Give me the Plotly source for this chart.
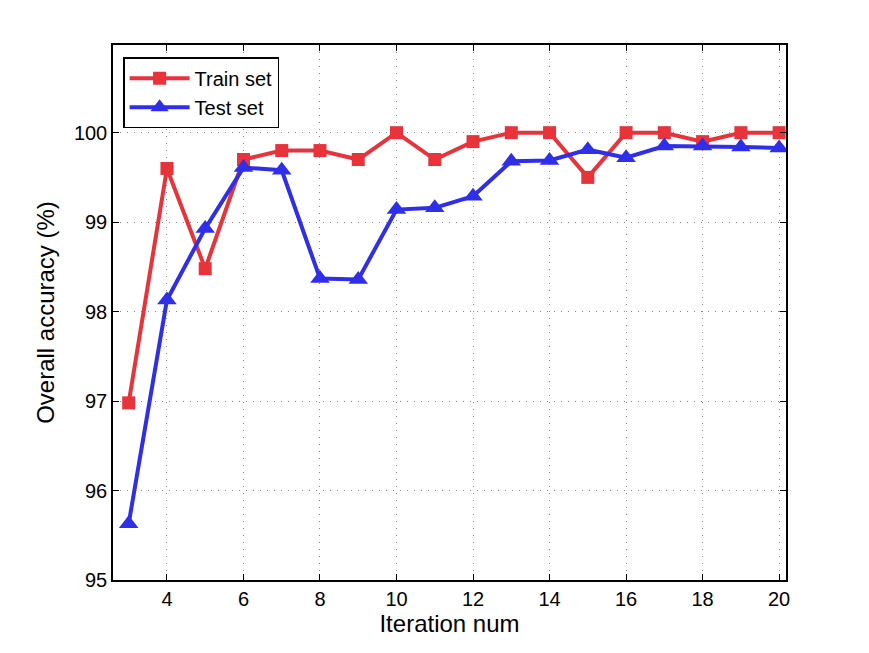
import plotly.graph_objects as go

iterations = list(range(3, 21))
train_acc = [96.98, 99.6, 98.48, 99.7, 99.8, 99.8, 99.7, 100.0, 99.7, 99.9,
             100.0, 100.0, 99.5, 100.0, 100.0, 99.9, 100.0, 100.0]
test_acc = [95.63, 98.13, 98.93, 99.61, 99.58, 98.37, 98.36, 99.14, 99.16, 99.29,
            99.68, 99.69, 99.81, 99.72, 99.85, 99.85, 99.84, 99.83]
x_ticks = [4, 6, 8, 10, 12, 14, 16, 18, 20]
y_ticks = [95, 96, 97, 98, 99, 100]

red = "#E8333B"
blue = "#2F2FEA"

fig = go.Figure()
fig.add_trace(go.Scatter(x=iterations, y=train_acc, mode="lines+markers", name="Train set",
                         line=dict(color=red, width=4),
                         marker=dict(symbol="square", size=13, color=red)))
fig.add_trace(go.Scatter(x=iterations, y=test_acc, mode="lines+markers", name="Test set",
                         line=dict(color=blue, width=4),
                         marker=dict(symbol="triangle-up", size=17, color=blue)))

axis_common = dict(showline=True, linecolor="black", linewidth=1.5, mirror="ticks",
                   ticks="inside", ticklen=6, tickcolor="black",
                   showgrid=True, gridcolor="#888888", griddash="1px,6px", gridwidth=1,
                   zeroline=False, tickfont=dict(size=20, color="black"))

fig.update_xaxes(range=[2.59, 20.18], tickvals=x_ticks,
                 title=dict(text="Iteration num", font=dict(size=24, color="black"), standoff=6),
                 **axis_common)
fig.update_yaxes(range=[95, 100.98], tickvals=y_ticks,
                 title=dict(text="Overall accuracy (%)", font=dict(size=24, color="black"), standoff=12),
                 **axis_common)

fig.update_layout(
    width=869, height=653,
    margin=dict(l=113, r=83, t=45, b=73),
    plot_bgcolor="white", paper_bgcolor="white",
    font=dict(family="Liberation Sans, Arial, sans-serif", color="black"),
    legend=dict(x=0.015, y=0.977, xanchor="left", yanchor="top",
                bgcolor="white", bordercolor="black", borderwidth=1.5,
                font=dict(size=20, color="black"), itemwidth=60,
                tracegroupgap=0),
    showlegend=True,
)

fig.write_html("out.html")
